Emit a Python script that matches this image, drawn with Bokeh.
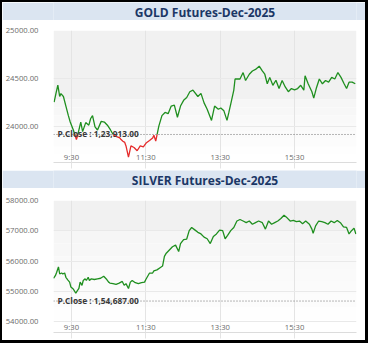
import math
from bokeh.plotting import figure
from bokeh.models import Range1d, FixedTicker, Label, Span, BoxAnnotation
from bokeh.layouts import column
from bokeh.core.properties import value
from bokeh.embed import file_html
from bokeh.resources import INLINE

# ---------------- data ----------------
gold_title = "GOLD Futures-Dec-2025"
silver_title = "SILVER Futures-Dec-2025"

tick_times = ["09:30", "11:30", "13:30", "15:30"]
tick_labels = ["9:30", "11:30", "13:30", "15:30"]

gold_yticks = [125000, 124500, 124000]
gold_ytick_labels = ["25000.00", "24500.00", "24000.00"]
gold_pclose = 123913
gold_pclose_label = "P.Close : 1,23,913.00"

silver_yticks = [158000, 157000, 156000, 155000, 154000]
silver_ytick_labels = ["58000.00", "57000.00", "56000.00", "55000.00", "54000.00"]
silver_pclose = 154687
silver_pclose_label = "P.Close : 1,54,687.00"

gold_times = [
    "09:02", "09:05", "09:08", "09:11", "09:13", "09:17", "09:21", "09:25", "09:28", "09:33",
    "09:38", "09:40", "09:45", "09:48", "09:53", "09:58", "10:01", "10:04", "10:08", "10:12",
    "10:18", "10:23", "10:28", "10:33", "10:38", "10:42", "10:48", "10:50", "10:53", "10:56",
    "10:58", "11:02", "11:06", "11:11", "11:16", "11:21", "11:26", "11:31", "11:36", "11:41",
    "11:43", "11:46", "11:51", "11:56", "12:01", "12:06", "12:11", "12:16", "12:21", "12:26",
    "12:31", "12:36", "12:41", "12:46", "12:54", "12:59", "13:04", "13:09", "13:14", "13:16",
    "13:21", "13:27", "13:31", "13:36", "13:41", "13:44", "13:48", "13:52", "13:54", "14:02",
    "14:07", "14:11", "14:17", "14:22", "14:27", "14:33", "14:38", "14:42", "14:46", "14:50",
    "14:55", "15:00", "15:05", "15:10", "15:15", "15:20", "15:25", "15:30", "15:35", "15:40",
    "15:45", "15:47", "15:52", "15:58", "16:01", "16:05", "16:10", "16:15", "16:20", "16:25",
    "16:30", "16:35", "16:40", "16:45", "16:50", "16:54", "16:58", "17:03", "17:08",
]
gold_values = [
    124250, 124343, 124430, 124310, 124340, 124310, 124210, 124110, 124043, 123960,
    123860, 123905, 124043, 123943, 124037, 124010, 124080, 124110, 123993, 123960,
    124050, 124043, 124010, 123960, 123905, 123893, 123877, 123860, 123843, 123830,
    123793, 123677, 123793, 123777, 123743, 123793, 123783, 123827, 123850, 123877,
    123905, 123843, 124000, 124110, 124143, 124130, 124210, 124220, 124093, 124210,
    124270, 124300, 124360, 124377, 124310, 124343, 124243, 124177, 124093, 124060,
    124210, 124177, 124190, 124160, 124060, 124143, 124260, 124377, 124493, 124493,
    124560, 124477, 124543, 124577, 124593, 124627, 124577, 124543, 124443, 124510,
    124427, 124480, 124393, 124477, 124410, 124360, 124393, 124380, 124393, 124427,
    124377, 124527, 124443, 124360, 124293, 124393, 124493, 124443, 124477, 124460,
    124510, 124493, 124560, 124510, 124443, 124393, 124460, 124460, 124443,
]

silver_times = [
    "09:01", "09:04", "09:06", "09:09", "09:11", "09:14", "09:16", "09:19", "09:21", "09:24",
    "09:27", "09:29", "09:32", "09:34", "09:37", "09:39", "09:42", "09:44", "09:47", "09:49",
    "09:52", "09:54", "09:57", "09:59", "10:02", "10:07", "10:12", "10:17", "10:22", "10:27",
    "10:30", "10:32", "10:37", "10:42", "10:47", "10:52", "10:55", "10:58", "11:02", "11:05",
    "11:08", "11:13", "11:18", "11:23", "11:28", "11:30", "11:36", "11:41", "11:43", "11:48",
    "11:53", "11:57", "12:00", "12:03", "12:08", "12:13", "12:18", "12:23", "12:26", "12:31",
    "12:36", "12:40", "12:44", "12:49", "12:54", "12:59", "13:04", "13:09", "13:14", "13:19",
    "13:24", "13:29", "13:34", "13:38", "13:42", "13:47", "13:52", "13:57", "14:02", "14:07",
    "14:12", "14:17", "14:22", "14:27", "14:32", "14:38", "14:43", "14:48", "14:53", "14:58",
    "15:03", "15:08", "15:13", "15:18", "15:23", "15:28", "15:33", "15:38", "15:43", "15:48",
    "15:54", "15:58", "16:00", "16:04", "16:09", "16:14", "16:19", "16:24", "16:29", "16:34",
    "16:39", "16:44", "16:49", "16:54", "16:58", "17:02", "17:06", "17:09",
]
silver_values = [
    155438, 155524, 155629, 155810, 155578, 155610, 155578, 155610, 155470, 155387,
    155311, 155152, 155102, 155048, 154943, 155016, 155102, 155311, 155206, 155365,
    155419, 155365, 155470, 155365, 155419, 155397, 155419, 155438, 155502, 155397,
    155311, 155279, 155260, 155238, 155279, 155333, 155206, 155260, 155102, 155311,
    155365, 155292, 155260, 155292, 155311, 155397, 155610, 155610, 155683, 155714,
    155787, 155841, 156159, 156264, 156371, 156476, 156530, 156317, 156581, 156714,
    156730, 157006, 157111, 157032, 156952, 156898, 156794, 156740, 156581, 156816,
    156898, 157025, 157006, 156740, 156848, 157006, 157111, 157324, 157375, 157324,
    157270, 157324, 157216, 157270, 157324, 157270, 157057, 157324, 157216, 157270,
    157324, 157406, 157514, 157429, 157324, 157343, 157302, 157324, 157238, 157324,
    157216, 157057, 156921, 157165, 157324, 157302, 157270, 157216, 157324, 157270,
    157343, 157270, 157133, 157111, 156898, 157006, 157089, 156898,
]

# ---------------- styling ----------------
FONT = "Open Sans"
GREEN = "#1f8f1f"
RED = "#e52b2b"
TITLE_BG = "#dbe5f1"
TITLE_FG = "#1b3766"
LABEL_FG = "#6b6b6b"
INNER_W = 363


def to_min(s):
    h, m = s.split(":")
    return (int(h) - 9) * 60 + int(m)


def split_zones(xs, ys, thr):
    gx, gy, rx, ry = [], [], [], []
    for i in range(len(xs)):
        x, y = xs[i], ys[i]
        above = y >= thr
        if i > 0:
            px, py = xs[i - 1], ys[i - 1]
            pabove = py >= thr
            if pabove != above:
                f = (thr - py) / (y - py)
                cx = px + f * (x - px)
                if pabove:
                    gx += [cx, math.nan]; gy += [thr, math.nan]
                    rx += [cx]; ry += [thr]
                else:
                    rx += [cx, math.nan]; ry += [thr, math.nan]
                    gx += [cx]; gy += [thr]
        if above:
            gx.append(x); gy.append(y)
        else:
            rx.append(x); ry.append(y)
    return gx, gy, rx, ry


def title_fig(text):
    p = figure(width=INNER_W, height=18, x_range=Range1d(0, 1), y_range=Range1d(0, 1),
               x_axis_type=None, y_axis_type=None,
               output_backend="svg", toolbar_location=None,
               background_fill_color=TITLE_BG, border_fill_color=TITLE_BG,
               outline_line_color=None, min_border=0)
    p.grid.visible = False
    p.text(x=[0.5], y=[0.45], text=[text], text_align="center", text_baseline="middle",
           text_font=value(FONT), text_font_style="bold", text_font_size="12px",
           text_color=TITLE_FG)
    return p


def chart_fig(times, values, yticks, ylabels, pclose, pclose_label, y0, y1, split,
              height, border_left, border_right, border_top, border_bottom):
    xs = [to_min(t) for t in times]
    p = figure(width=INNER_W, height=height, x_range=Range1d(1, 490), y_range=Range1d(y0, y1),
               output_backend="svg", toolbar_location=None,
               background_fill_color="white", border_fill_color="white",
               outline_line_color=None,
               min_border_left=border_left, min_border_right=border_right,
               min_border_top=border_top, min_border_bottom=border_bottom)

    # background: gray upper band, fading to white
    p.add_layout(BoxAnnotation(bottom=split, top=y1, fill_color="#f1f1f1", fill_alpha=1,
                               line_color=None, level="image"))
    n = 8
    for k in range(n):
        top = split - (split - y0) * k / n
        bot = split - (split - y0) * (k + 1) / n
        c = int(round(0xf6 + (0xff - 0xf6) * k / (n - 1)))
        col = "#%02x%02x%02x" % (c, c, c)
        p.add_layout(BoxAnnotation(bottom=bot, top=top, fill_color=col, fill_alpha=1,
                                   line_color=None, level="image"))

    ticks = [to_min(t) for t in tick_times]

    p.xaxis.ticker = FixedTicker(ticks=ticks)
    p.xaxis.major_label_overrides = {t: l for t, l in zip(ticks, tick_labels)}
    p.xaxis.major_label_text_font = FONT
    p.xaxis.major_label_text_font_size = "7.7px"
    p.xaxis.major_label_text_color = LABEL_FG
    p.xaxis.major_label_standoff = -17
    p.xaxis.axis_line_color = "#dcdcdc"
    p.xaxis.major_tick_line_color = "#e4e4e4"
    p.xaxis.major_tick_in = 0
    p.xaxis.major_tick_out = 6
    p.xaxis.minor_tick_line_color = None

    p.yaxis.ticker = FixedTicker(ticks=yticks)
    p.yaxis.major_label_overrides = {t: l for t, l in zip(yticks, ylabels)}
    p.yaxis.axis_line_color = None
    p.yaxis.major_tick_line_color = None
    p.yaxis.minor_tick_line_color = None
    p.yaxis.major_label_standoff = 9
    p.yaxis.major_label_text_font = FONT
    p.yaxis.major_label_text_font_size = "7.7px"
    p.yaxis.major_label_text_color = LABEL_FG

    p.xgrid.ticker = FixedTicker(ticks=ticks)
    p.xgrid.grid_line_color = "#e4e4e4"
    p.ygrid.ticker = FixedTicker(ticks=yticks)
    p.ygrid.grid_line_color = "#e9e9e9"

    gx, gy, rx, ry = split_zones(xs, values, pclose)
    p.line(gx, gy, line_color=GREEN, line_width=1.3)
    if rx:
        p.line(rx, ry, line_color=RED, line_width=1.3)

    p.add_layout(Span(location=pclose, dimension="width", line_color="#707070",
                      line_dash="1 2", line_width=1))
    p.add_layout(Label(x=1, y=pclose, x_offset=4, y_offset=1, text=pclose_label,
                       text_font=FONT, text_font_style="bold", text_font_size="8.3px",
                       text_color="#3a3a3a", text_baseline="alphabetic"))
    return p


gold = chart_fig(gold_times, gold_values, gold_yticks, gold_ytick_labels, gold_pclose,
                 gold_pclose_label, 123620, 125000, 124280,
                 height=150, border_left=47, border_right=6, border_top=10, border_bottom=8)
silver = chart_fig(silver_times, silver_values, silver_yticks, silver_ytick_labels, silver_pclose,
                   silver_pclose_label, 153651, 158000, 157000,
                   height=152, border_left=46, border_right=9, border_top=12, border_bottom=8)

layout = column(title_fig(gold_title), gold, title_fig(silver_title), silver,
                styles={"border-style": "solid", "border-color": "black",
                        "border-width": "2px 3px 3px 2px"})

open("out.html", "w").write(file_html(layout, INLINE))
